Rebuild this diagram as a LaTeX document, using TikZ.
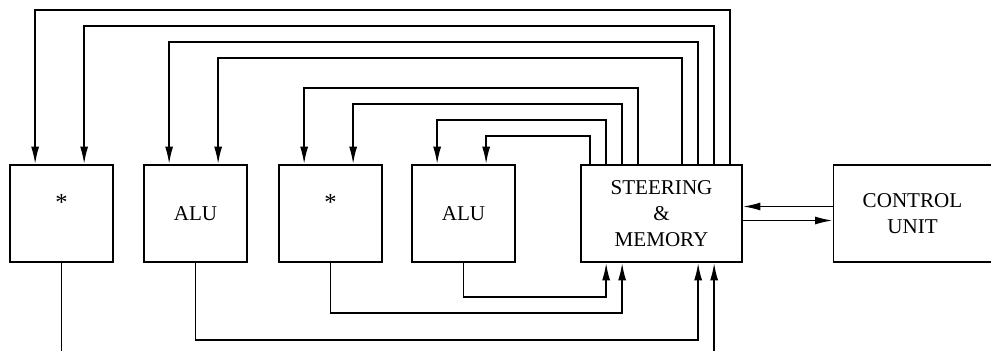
\documentclass[tikz,border=0pt]{standalone}
\usepackage{fontspec}
\setmainfont{Liberation Serif}
\usetikzlibrary{arrows.meta,calc}
\tikzstyle{unit}=[rectangle,draw=black,line width=1pt,minimum width=2.06cm,minimum height=1.94cm,align=center,font=\fontsize{12}{14.7}\selectfont]
\tikzstyle{bus}=[line width=1pt]
\tikzstyle{flow}=[-{Latex[length=10pt,width=4.6pt]}, line width=1pt]
\newcommand{\mulsign}{\raisebox{6.5pt}[\height][\depth]{\fontsize{14}{14}\selectfont *}}

\begin{document}
\begin{tikzpicture}[x=0.02cm,y=-0.02cm]
\useasboundingbox (0,0) rectangle (991,351);
\node[unit] (M1) at (61.5,213.5) {\mulsign};
\node[unit] (A1) at (195.5,213.5) {ALU};
\node[unit] (M2) at (330.5,213.5) {\mulsign};
\node[unit] (A2) at (463.5,213.5) {ALU};
\node[unit,minimum width=3.22cm] (SM) at (661.5,213.5) {STEERING\\\&\\MEMORY};
\node[unit,minimum width=3.16cm] (CU) at (912.5,213.5) {CONTROL\\UNIT};
% operands from steering to the units
\draw[flow]($(SM.north west)+(150,0)$)--++(0,-154)-|($(M1.north west)+(26,0)$);
\draw[flow]($(SM.north west)+(134,0)$)--++(0,-138)-|($(M1.north west)+(75,0)$);
\draw[flow]($(SM.north west)+(118,0)$)--++(0,-122)-|($(A1.north west)+(26,0)$);
\draw[flow]($(SM.north west)+(102,0)$)--++(0,-106)-|($(A1.north west)+(75,0)$);
\draw[flow]($(SM.north west)+(58,0)$)--++(0,-76)-|($(M2.north west)+(26,0)$);
\draw[flow]($(SM.north west)+(42,0)$)--++(0,-60)-|($(M2.north west)+(75,0)$);
\draw[flow]($(SM.north west)+(26,0)$)--++(0,-44)-|($(A2.north west)+(26,0)$);
\draw[flow]($(SM.north west)+(10,0)$)--++(0,-28)-|($(A2.north west)+(75,0)$);
% results back
\coordinate (out) at ($(M1.south)+(0,89)$);
\coordinate (in) at ($(SM.south west)+(134,89)$);
\draw[bus](M1.south)--(out);
\draw[flow](A1.south)--++(0,77)-|($(SM.south west)+(118,0)$);
\draw[flow](M2.south)--++(0,50)-|($(SM.south west)+(42,0)$);
\draw[flow](A2.south)--++(0,34)-|($(SM.south west)+(26,0)$);
\draw[flow](in)--($(SM.south west)+(134,0)$);
\draw[flow]($(CU.west)+(0,-7)$)--($(SM.east)+(0,-7)$);
\draw[flow]($(SM.east)+(0,7)$)--($(CU.west)+(0,7)$);
\end{tikzpicture}
\end{document}
